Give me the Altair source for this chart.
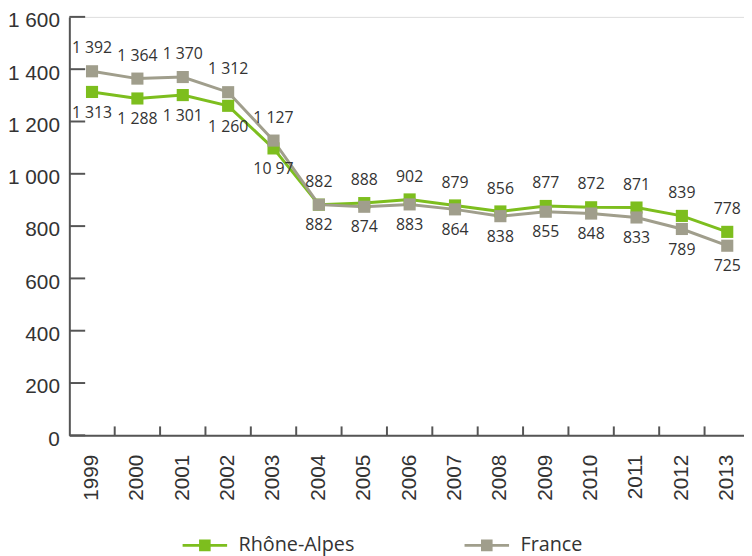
import altair as alt
import pandas as pd

# ---- data ----
years = [str(y) for y in range(1999, 2014)]
rhone_alpes = [1313, 1288, 1301, 1260, 1097, 882, 888, 902, 879, 856, 877, 872, 871, 839, 778]
france = [1392, 1364, 1370, 1312, 1127, 882, 874, 883, 864, 838, 855, 848, 833, 789, 725]
y_ticks = [0, 200, 400, 600, 800, 1000, 1200, 1400, 1600]
series_names = ["Rhône-Alpes", "France"]
series_colors = ["#7dbe1e", "#a09e8c"]


def fmt(v):
    return f"{v:,}".replace(",", " ")


ra_labels = [fmt(v) for v in rhone_alpes]
ra_labels[4] = "10 97"  # as printed on the reference
fr_labels = [fmt(v) for v in france]

rows = []
for i, yr in enumerate(years):
    ra, fr = rhone_alpes[i], france[i]
    rows.append(dict(year=yr, series="Rhône-Alpes", value=ra, label=ra_labels[i],
                     side="above" if ra >= fr else "below"))
    rows.append(dict(year=yr, series="France", value=fr, label=fr_labels[i],
                     side="above" if fr > ra else "below"))
df = pd.DataFrame(rows)
ticks_df = pd.DataFrame({"v": y_ticks})
xt_df = pd.DataFrame({"year": years[:-1]})

FONT = "Open Sans"
AXFONT = "Liberation Sans"
TXT = "#333333"
AX = "#555555"

PLOT_W, PLOT_H = 688, 423

x_scale = alt.Scale(type="band", domain=years, paddingInner=0, paddingOuter=0)
y_scale = alt.Scale(domain=[0, 1600], nice=False)
x_axis = alt.Axis(title=None, ticks=False, labelAngle=270, labelPadding=19, labelFontSize=21,
                  labelFont=AXFONT, labelColor=TXT, domainColor=AX, domainWidth=2, grid=False)
y_axis = alt.Axis(title=None, ticks=False, values=y_ticks, labelPadding=10, labelFontSize=21,
                  labelFont=AXFONT, labelColor=TXT, domainColor=AX, domainWidth=2, grid=False,
                  labelOffset=4,
                  labelExpr="replace(format(datum.value, ','), ',', ' ')")

X = alt.X("year:O", scale=x_scale, axis=x_axis)
Y = alt.Y("value:Q", scale=y_scale, axis=y_axis)

legend_path = ("M-1,0L1,0"
               "M-0.26,-0.2L0.26,-0.2M-0.26,-0.1L0.26,-0.1M-0.26,0L0.26,0"
               "M-0.26,0.1L0.26,0.1M-0.26,0.2L0.26,0.2")
color = alt.Color("series:N", scale=alt.Scale(domain=series_names, range=series_colors),
                  legend=alt.Legend(title=None, orient="none", direction="horizontal",
                                    legendX=113, legendY=510, symbolType=legend_path,
                                    symbolSize=2025, symbolStrokeWidth=3, labelOffset=10,
                                    columnPadding=104, padding=0, labelFontSize=20,
                                    labelFont=FONT, labelColor=TXT))

base = alt.Chart(df)

ytick_rules = alt.Chart(ticks_df).mark_rule(color=AX, strokeWidth=2).encode(
    y=alt.Y("v:Q", scale=y_scale, axis=y_axis), x=alt.value(0), x2=alt.value(16))
xtick_rules = alt.Chart(xt_df).mark_rule(color=AX, strokeWidth=2).encode(
    x=alt.X("year:O", scale=x_scale, axis=x_axis, bandPosition=1),
    y=alt.value(PLOT_H - 9), y2=alt.value(PLOT_H))

layers = []
for s in series_names:
    layers.append(base.transform_filter(alt.datum.series == s)
                  .mark_line(strokeWidth=3).encode(x=X, y=Y, color=color))
for s in series_names:
    layers.append(base.transform_filter(alt.datum.series == s)
                  .mark_square(size=150, opacity=1, filled=True).encode(x=X, y=Y, color=color))

lab_above = base.transform_filter(alt.datum.side == "above").mark_text(
    dy=-23, fontSize=16, font=FONT, color=TXT, baseline="middle").encode(x=X, y=Y, text="label:N")
lab_below = base.transform_filter(alt.datum.side == "below").mark_text(
    dy=21, fontSize=16, font=FONT, color=TXT, baseline="middle").encode(x=X, y=Y, text="label:N")

chart = alt.layer(*layers, ytick_rules, xtick_rules, lab_above, lab_below).properties(
    width=PLOT_W, height=PLOT_H,
    autosize=alt.AutoSizeParams(type="none"),
    padding={"left": 62, "top": 6, "right": -6, "bottom": 119},
).configure_view(stroke=None).configure(background="white")

chart.save("out.html", embed_options={"renderer": "svg", "actions": False})
